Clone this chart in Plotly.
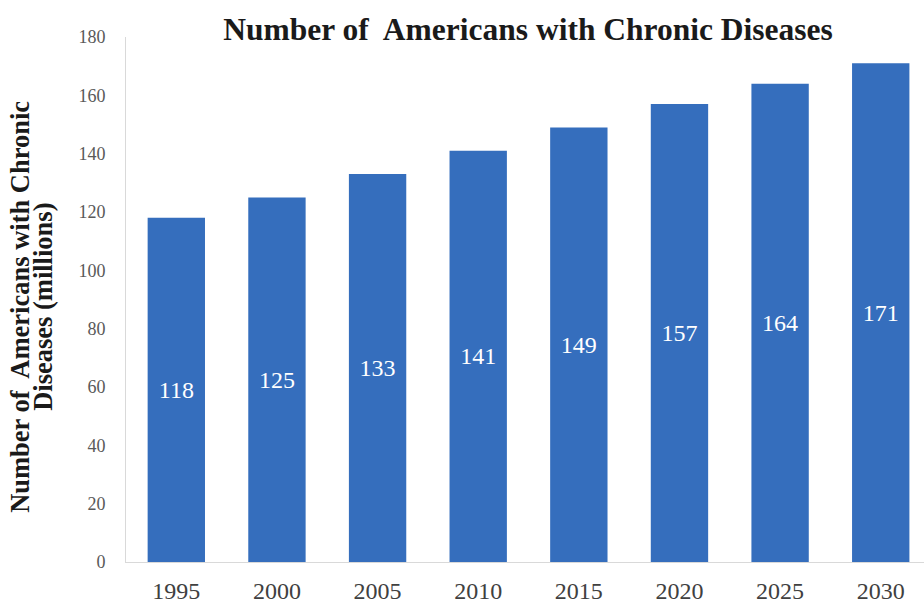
import plotly.graph_objects as go

years = ["1995", "2000", "2005", "2010", "2015", "2020", "2025", "2030"]
values = [118, 125, 133, 141, 149, 157, 164, 171]
y_ticks = [0, 20, 40, 60, 80, 100, 120, 140, 160, 180]

serif = "Liberation Serif, Times New Roman, serif"

fig = go.Figure()
fig.add_trace(go.Bar(
    x=years, y=values,
    width=0.57,
    marker=dict(color="#356EBD", line=dict(width=0)),
    text=[str(v) for v in values],
    textposition="inside",
    insidetextanchor="middle",
    textfont=dict(family=serif, size=24, color="white"),
    insidetextfont=dict(family=serif, size=24, color="white"),
    hoverinfo="skip",
))

fig.update_layout(
    width=924, height=606,
    margin=dict(l=126, r=0, t=37, b=44),
    paper_bgcolor="white", plot_bgcolor="white",
    showlegend=False,
    bargap=0.43,
    title=dict(text="<b>Number of  Americans with Chronic Diseases</b>",
               font=dict(family=serif, size=31.5, color="#1a1a1a"),
               x=0.5715, xanchor="center", y=0.953, yanchor="middle"),
    xaxis=dict(type="category", range=[-0.5, 7.43],
               showline=True, linecolor="#D9D9D9", linewidth=1,
               ticks="", showgrid=False, ticklabelstandoff=7,
               tickfont=dict(family=serif, size=24, color="#404040")),
    yaxis=dict(range=[0, 180], tickvals=y_ticks, showgrid=False, zeroline=False,
               showline=True, linecolor="#D9D9D9", linewidth=1,
               ticks="", ticklabelstandoff=16,
               tickfont=dict(family=serif, size=18, color="#595959")),
    annotations=[
        dict(text="<b>Number of  Americans with Chronic</b>",
             xref="paper", yref="paper", x=20, y=0.486,
             xanchor="center", yanchor="middle", textangle=-90, showarrow=False,
             font=dict(family=serif, size=26.5, color="#1a1a1a")),
        dict(text="<b>Diseases (millions)</b>",
             xref="paper", yref="paper", x=43, y=0.486,
             xanchor="center", yanchor="middle", textangle=-90, showarrow=False,
             font=dict(family=serif, size=26.5, color="#1a1a1a")),
    ],
)
# place axis-title lines at pixel x positions (converted to paper coords)
plot_w = 924 - 126
for ann in fig.layout.annotations:
    ann.x = (ann.x - 126) / plot_w

fig.write_html("out.html")
